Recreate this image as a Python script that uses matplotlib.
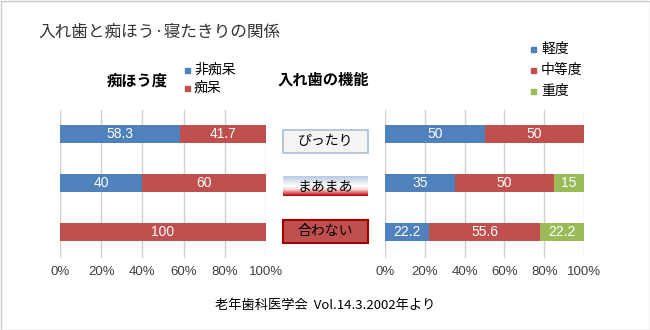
import matplotlib.pyplot as plt
import numpy as np
from matplotlib.patches import Rectangle
from matplotlib.colors import LinearSegmentedColormap

plt.rcParams['font.family'] = ['Noto Sans CJK JP', 'DejaVu Sans']

# データ
fit_labels = ['ぴったり', 'まあまあ', '合わない']
dem_names = ['非痴呆', '痴呆']
non_dementia = [58.3, 40, 0]
dementia = [41.7, 60, 100]
func_names = ['軽度', '中等度', '重度']
mild = [50, 35, 22.2]
moderate = [50, 50, 55.6]
severe = [0, 15, 22.2]
xticks = [0, 20, 40, 60, 80, 100]
xtick_labels = ['0%', '20%', '40%', '60%', '80%', '100%']

blue = '#4F81BD'
red = '#C0504D'
green = '#9BBB59'

W, H = 650, 330
fig = plt.figure(figsize=(6.5, 3.3), dpi=100)

def px_axes(x0, y0, x1, y1):
    return fig.add_axes([x0 / W, 1 - y1 / H, (x1 - x0) / W, (y1 - y0) / H])

def stacked(ax, series, colors):
    rows = np.arange(len(fit_labels))
    left = np.zeros(len(rows))
    for vals, c in zip(series, colors):
        vals = np.array(vals, dtype=float)
        ax.barh(rows, vals, left=left, height=0.37, color=c, zorder=3)
        for r, v, l in zip(rows, vals, left):
            if v > 0:
                ax.text(l + v / 2, r, f'{v:g}', ha='center', va='center',
                        color='white', fontsize=10, family='Liberation Sans', zorder=4)
        left += vals
    ax.set_xlim(0, 100)
    ax.set_ylim(2.53, -0.49)
    ax.set_xticks(xticks)
    ax.set_xticklabels(xtick_labels, fontsize=9.5, color='#404040', family='Liberation Sans')
    ax.set_yticks([])
    ax.tick_params(axis='x', length=0, pad=6)
    ax.grid(axis='x', color='#D0D0D0', lw=1, zorder=0)
    for s in ax.spines.values():
        s.set_visible(False)

ax1 = px_axes(60, 110, 266, 258)
stacked(ax1, [non_dementia, dementia], [blue, red])
ax2 = px_axes(385, 110, 584, 258)
stacked(ax2, [mild, moderate, severe], [blue, red, green])

# 全体のテキストとラベル枠
ov = fig.add_axes([0, 0, 1, 1], zorder=5)
ov.set_xlim(0, W)
ov.set_ylim(H, 0)
ov.axis('off')
ov.patch.set_alpha(0)

ov.add_patch(Rectangle((0.5, 0.5), W - 1, H - 1, fill=False, ec='#C8C8C8', lw=1))
ov.text(38, 32, '入れ歯と痴ほう·寝たきりの関係', fontsize=12, color='#333333', va='center')
ov.text(107, 80, '痴ほう度', fontsize=11, fontweight='bold', va='center')
ov.text(278, 80, '入れ歯の機能', fontsize=11, fontweight='bold', va='center')
ov.text(325, 305, '老年歯科医学会  Vol.14.3.2002年より', fontsize=9.5,
        ha='center', va='center')

for i, (name, c) in enumerate(zip(dem_names, [blue, red])):
    y = 70 + i * 18
    ov.add_patch(Rectangle((185, y - 2.5), 5, 5, color=c))
    ov.text(194, y, name, fontsize=10, va='center')
for i, (name, c) in enumerate(zip(func_names, [blue, red, green])):
    y = 49 + i * 21
    ov.add_patch(Rectangle((531, y - 2.5), 5, 5, color=c))
    ov.text(541, y, name, fontsize=10, va='center')

box_top = [130, 176, 220]
box_h = [23, 20, 23]
bx0, bx1 = 283, 368
# ぴったり
ov.add_patch(Rectangle((bx0, box_top[0]), bx1 - bx0, box_h[0], fc='#F4F4F2', ec='#A9BEDC', lw=1.2))
# まあまあ (グラデーション)
grad = LinearSegmentedColormap.from_list('g', [(0, '#B9C9E2'), (0.5, '#FFFFFF'),
                                              (0.68, '#F2D4D4'), (1.0, '#C00000')])
gy = np.linspace(0, 1, 64).reshape(-1, 1)
ov.imshow(gy, cmap=grad, aspect='auto',
          extent=(bx0, bx1, box_top[1] + box_h[1], box_top[1]), zorder=1)
# 合わない
ov.add_patch(Rectangle((bx0, box_top[2]), bx1 - bx0, box_h[2], fc='#C0504D', ec='#A00000', lw=1.5))
for lab, t, h in zip(fit_labels, box_top, box_h):
    ov.text((bx0 + bx1) / 2, t + h / 2, lab, fontsize=10, ha='center', va='center', zorder=3)
ov.set_xlim(0, W)
ov.set_ylim(H, 0)

fig.savefig('out.png', dpi=100)
